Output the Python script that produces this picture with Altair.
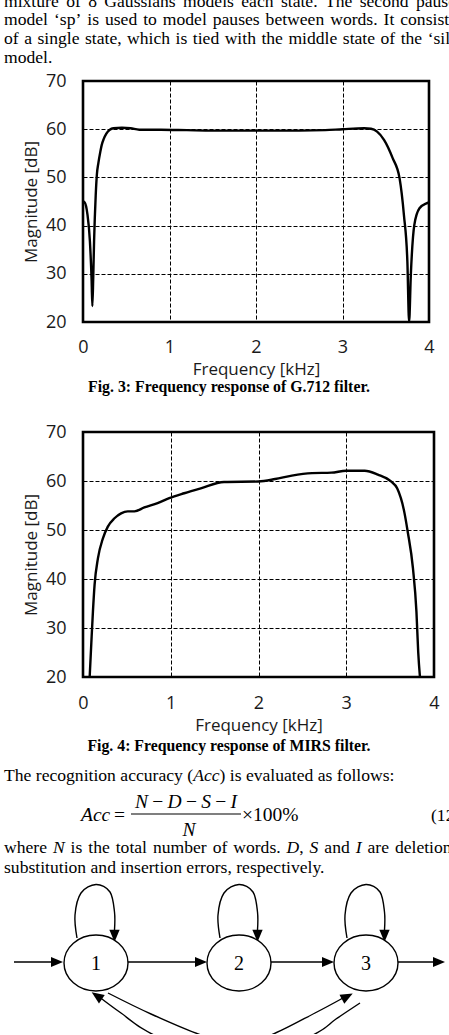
import altair as alt
import pandas as pd

# ---------------- chart data ----------------
g712_freq_khz = [0.0, 0.02, 0.05, 0.08, 0.10, 0.108, 0.118, 0.128, 0.147, 0.16,
                 0.178, 0.20, 0.216, 0.24, 0.27, 0.31, 0.35, 0.45, 0.55, 0.65,
                 0.9, 1.2, 1.5, 2.0, 2.5, 2.8, 3.0, 3.25, 3.33, 3.40,
                 3.48, 3.58, 3.66, 3.71, 3.75, 3.77, 3.79, 3.83, 3.89, 3.97, 4.0]
g712_mag_db = [45.0, 44.8, 42.5, 36.7, 28.4, 23.3, 29.0, 36.7, 46.3, 50.5,
               53.0, 55.3, 56.7, 58.0, 59.1, 59.9, 60.2, 60.3, 60.2, 59.9,
               59.9, 59.8, 59.7, 59.7, 59.7, 59.8, 60.0, 60.2, 60.1, 59.5,
               57.8, 54.0, 49.8, 42.2, 32.5, 20.0, 29.8, 40.1, 43.6, 44.6, 44.8]

mirs_freq_khz = [0.076, 0.095, 0.113, 0.132, 0.17, 0.227, 0.283, 0.359, 0.434, 0.51,
                 0.586, 0.699, 0.85, 0.983, 1.153, 1.342, 1.607, 2.0, 2.19, 2.38,
                 2.61, 2.83, 3.0, 3.21, 3.36, 3.51, 3.58, 3.66, 3.70, 3.76,
                 3.80, 3.82, 3.84]
mirs_mag_db = [20.0, 27.0, 33.3, 38.8, 44.2, 48.3, 50.7, 52.4, 53.4, 53.8,
               53.8, 54.6, 55.5, 56.5, 57.5, 58.5, 59.8, 59.9, 60.4, 61.1,
               61.6, 61.7, 62.1, 62.1, 61.3, 59.9, 58.5, 53.8, 49.7, 42.2,
               33.3, 25.1, 20.0]

x_ticks = [0, 1, 2, 3, 4]
y_ticks = [20, 30, 40, 50, 60, 70]
x_title = "Frequency [kHz]"
y_title = "Magnitude [dB]"

# ---------------- page text ----------------
top_lines = [
    "mixture of 8 Gaussians models each state. The second pause",
    "model ‘sp’ is used to model pauses between words. It consists",
    "of a single state, which is tied with the middle state of the ‘sil’",
    "model.",
]
top_justified = [True, True, True, False]
caption3 = "Fig. 3: Frequency response of G.712 filter."
caption4 = "Fig. 4: Frequency response of MIRS filter."
acc_intro = "The recognition accuracy (_Acc_) is evaluated as follows:"
where_lines = [
    "where _N_ is the total number of words. _D_, _S_ and _I_ are deletion,",
    "substitution and insertion errors, respectively.",
]
where_justified = [True, False]
eq_lhs = "Acc"
eq_equals = "="
eq_numerator = [("N", "i"), ("\u2212", "r"), ("D", "i"), ("\u2212", "r"),
                ("S", "i"), ("\u2212", "r"), ("I", "i")]
eq_denominator = "N"
eq_factor = "\u00d7100%"
eq_number = "(12)"
hmm_states = ["1", "2", "3"]

# ---------------- fonts / layout ----------------
SERIF = "Liberation Serif"
SANS = "Open Sans"
F_BODY = 17.6
F_CAP = 15.8
F_EQ = 19.5
F_NODE = 20

ORIGIN_X = 82          # page x of the plot-area left edge
ROW_W = 449 - ORIGIN_X
ROW_A_H = 81
C1_W, C1_H = 346, 241
ROW_C_H = 110
C2_W, C2_H = 351, 245
ROW_E_H = 358
ROW_C_TOP = ROW_A_H + C1_H
ROW_E_TOP = ROW_C_TOP + ROW_C_H + C2_H
TEXT_LEFT = 3
TEXT_RIGHT = 455

# Times / Liberation Serif advance widths (1/1000 em)
TIMES_R = {" ": 250, "(": 333, ")": 333, ",": 250, ".": 250, ":": 278, "%": 833,
           "‘": 333, "’": 333, "\u2212": 564, "\u00d7": 564, "=": 564,
           "0": 500, "1": 500, "2": 500, "3": 500, "4": 500, "5": 500, "6": 500,
           "7": 500, "8": 500, "9": 500,
           "A": 722, "B": 667, "C": 667, "D": 722, "E": 611, "F": 556, "G": 722,
           "H": 722, "I": 333, "J": 389, "K": 722, "L": 611, "M": 889, "N": 722,
           "O": 722, "P": 556, "Q": 722, "R": 667, "S": 556, "T": 611, "U": 722,
           "V": 722, "W": 944, "X": 722, "Y": 722, "Z": 611,
           "a": 444, "b": 500, "c": 444, "d": 500, "e": 444, "f": 333, "g": 500,
           "h": 500, "i": 278, "j": 278, "k": 500, "l": 278, "m": 778, "n": 500,
           "o": 500, "p": 500, "q": 500, "r": 333, "s": 389, "t": 278, "u": 500,
           "v": 500, "w": 722, "x": 500, "y": 500, "z": 444}
TIMES_I = dict(TIMES_R, A=611, c=444, N=667, D=722, S=500, I=333)


def seg_w(text, style, size):
    table = TIMES_I if style == "i" else TIMES_R
    return sum(table.get(ch, 500) for ch in text) / 1000.0 * size


def parse(line):
    words, buf, italic = [[]], "", False
    for ch in line:
        if ch in "_ ":
            if buf:
                words[-1].append((buf, "i" if italic else "r"))
                buf = ""
            if ch == "_":
                italic = not italic
            else:
                words.append([])
        else:
            buf += ch
    if buf:
        words[-1].append((buf, "i" if italic else "r"))
    return [w for w in words if w]


def layout_line(line, baseline, size, justify):
    words = parse(line)
    widths = [sum(seg_w(t, s, size) for t, s in w) for w in words]
    gap = TIMES_R[" "] / 1000.0 * size
    if justify and len(words) > 1:
        natural = sum(widths) + gap * (len(words) - 1)
        gap += (TEXT_RIGHT - TEXT_LEFT - natural) / (len(words) - 1)
    rows, x = [], TEXT_LEFT
    for w, wd in zip(words, widths):
        xx = x
        for t, s in w:
            rows.append((t, xx, baseline, s))
            xx += seg_w(t, s, size)
        x += wd + gap
    return rows


def text_layer(rows, row_top, size, style="normal", weight="normal",
               align="left", baseline="alphabetic", font=SERIF):
    df = pd.DataFrame({"t": [r[0] for r in rows],
                       "x": [r[1] - ORIGIN_X for r in rows],
                       "y": [r[2] - row_top for r in rows]})
    return alt.Chart(df).mark_text(
        font=font, fontSize=size, fontStyle=style, fontWeight=weight,
        align=align, baseline=baseline, color="black"
    ).encode(
        x=alt.X("x:Q", scale=None, axis=None),
        y=alt.Y("y:Q", scale=None, axis=None),
        text=alt.Text("t:N"),
    )


def styled_layers(rows, row_top, size):
    reg = [r for r in rows if r[3] == "r"]
    ita = [r for r in rows if r[3] == "i"]
    out = []
    if reg:
        out.append(text_layer(reg, row_top, size))
    if ita:
        out.append(text_layer(ita, row_top, size, style="italic"))
    return out


# ---------------- frequency response charts ----------------
def freq_chart(freq, mag, w, h, label_pad_x, title_pad_x):
    df = pd.DataFrame({"f": freq, "m": mag})
    common = dict(grid=True, gridColor="black", gridDash=[4, 2], gridWidth=1,
                  domain=False, ticks=False, tickSize=0, labelFlush=False,
                  labelFont=SANS, labelFontSize=18, labelColor="#1a1a1a",
                  titleFont=SANS, titleFontSize=17, titleFontWeight="normal",
                  titleColor="#1a1a1a")
    x = alt.X("f:Q", scale=alt.Scale(domain=[0, 4], nice=False, zero=False),
              axis=alt.Axis(values=x_ticks, title=x_title, labelPadding=label_pad_x,
                            titlePadding=title_pad_x, **common))
    y = alt.Y("m:Q", scale=alt.Scale(domain=[20, 70], nice=False, zero=False),
              axis=alt.Axis(values=y_ticks, title=y_title, labelPadding=17,
                            titlePadding=5, **common))
    return alt.Chart(df).mark_line(
        color="black", strokeWidth=2.4, interpolate="monotone", clip=True
    ).encode(x=x, y=y).properties(
        width=w, height=h,
        view=alt.ViewBackground(stroke="black", strokeWidth=2.6))


chart1 = freq_chart(g712_freq_khz, g712_mag_db, C1_W, C1_H, 16, 5)
chart2 = freq_chart(mirs_freq_khz, mirs_mag_db, C2_W, C2_H, 17, 5)

# ---------------- row A: paragraph above Fig. 3 ----------------
rows_a = []
for i, (line, just) in enumerate(zip(top_lines, top_justified)):
    rows_a += layout_line(line, 6.5 + i * 18.8, F_BODY, just)
row_a = alt.layer(*styled_layers(rows_a, 0, F_BODY)).properties(width=ROW_W, height=ROW_A_H)

# ---------------- row C: caption of Fig. 3 ----------------
row_c = text_layer([(caption3, 228, 392, "r")], ROW_C_TOP, F_CAP, weight="bold",
                   align="center").properties(width=ROW_W, height=ROW_C_H)

# ---------------- row E: caption, equation, text, HMM diagram ----------------
T = ROW_E_TOP
layers_e = [text_layer([(caption4, 228, 751, "r")], T, F_CAP, weight="bold", align="center")]
rows_e = layout_line(acc_intro, 781, F_BODY, False)
for i, (line, just) in enumerate(zip(where_lines, where_justified)):
    rows_e += layout_line(line, 853 + i * 20, F_BODY, just)
rows_e.append((eq_number, 430, 821, "r"))
layers_e += styled_layers(rows_e, T, F_BODY)

# equation
BAR_X1, BAR_X2, BAR_Y = 130, 240, 814
eq_rows = [(eq_lhs, 80, 821, "i"), (eq_equals, 113, 821, "r"), (eq_factor, 241, 821, "r")]
gap = 0.22 * F_EQ
num_w = sum(seg_w(t, s, F_EQ) for t, s in eq_numerator) + gap * (len(eq_numerator) - 1)
xx = (BAR_X1 + BAR_X2) / 2 - num_w / 2
for t, s in eq_numerator:
    eq_rows.append((t, xx, 808, s))
    xx += seg_w(t, s, F_EQ) + gap
den_w = seg_w(eq_denominator, "i", F_EQ)
eq_rows.append((eq_denominator, (BAR_X1 + BAR_X2) / 2 + 3 - den_w / 2, 836, "i"))
layers_e += styled_layers(eq_rows, T, F_EQ)


def rule_layer(segs, width=1.3):
    df = pd.DataFrame({"x": [s[0] - ORIGIN_X for s in segs],
                       "x2": [s[1] - ORIGIN_X for s in segs],
                       "y": [s[2] - T for s in segs]})
    return alt.Chart(df).mark_rule(color="black", strokeWidth=width).encode(
        x=alt.X("x:Q", scale=None, axis=None), x2=alt.X2("x2:Q"),
        y=alt.Y("y:Q", scale=None, axis=None))


layers_e.append(rule_layer([(BAR_X1, BAR_X2, BAR_Y)], 1.2))

# HMM diagram geometry (page pixels)
NODE_X = [95, 238, 365]
NODE_Y = 963
ARROW_Y = 962
straight = [(13, 52), (127, 196), (270, 323), (397, 434)]
straight_tips = [62, 206, 333, 444]
loop_offsets = [(-19, -25), (-21, -48), (-15, -70), (0, -78.5), (14, -71),
                (18.5, -51), (18.5, -33)]
loop_tip = (18.5, -21)
arc_inner = [(107, 993), (150, 1014), (200, 1035), (235, 1044), (270, 1035),
             (314, 1013), (342, 998)]
arc_outer = [(359, 1003), (335, 1019), (312, 1035), (235, 1068), (153, 1035),
             (120, 1013), (99, 997.5)]

layers_e.append(rule_layer([(a, b, ARROW_Y) for a, b in straight], 1.4))

curve_rows = []
for k, nx in enumerate(NODE_X):
    for i, (dx, dy) in enumerate(loop_offsets):
        curve_rows.append((f"loop{k}", i, nx + dx, NODE_Y + dy))
for i, (px_, py_) in enumerate(arc_inner):
    curve_rows.append(("inner", i, px_, py_))
for i, (px_, py_) in enumerate(arc_outer):
    curve_rows.append(("outer", i, px_, py_))
curve_df = pd.DataFrame({"id": [r[0] for r in curve_rows], "i": [r[1] for r in curve_rows],
                         "x": [r[2] - ORIGIN_X for r in curve_rows],
                         "y": [r[3] - T for r in curve_rows]})
layers_e.append(alt.Chart(curve_df).mark_line(
    color="black", strokeWidth=1.4, interpolate="cardinal").encode(
    x=alt.X("x:Q", scale=None, axis=None), y=alt.Y("y:Q", scale=None, axis=None),
    detail="id:N", order="i:Q"))

ARROW = "M0,0L-0.42,1L0.42,1Z"
heads = [(x, ARROW_Y, 90, 576) for x in straight_tips]
heads += [(nx + loop_tip[0], NODE_Y + loop_tip[1], 180, 600) for nx in NODE_X]
heads += [(351.7, 993.5, 62, 600), (90.7, 992.3, 304, 600)]
head_df = pd.DataFrame({"x": [h[0] - ORIGIN_X for h in heads], "y": [h[1] - T for h in heads],
                        "a": [h[2] for h in heads], "s": [h[3] for h in heads]})
layers_e.append(alt.Chart(head_df).mark_point(
    shape=ARROW, filled=True, color="black", opacity=1, strokeWidth=0).encode(
    x=alt.X("x:Q", scale=None, axis=None), y=alt.Y("y:Q", scale=None, axis=None),
    angle=alt.Angle("a:Q", scale=None), size=alt.Size("s:Q", scale=None)))

ELLIPSE = "M-1,0A1,0.875,0,1,1,1,0A1,0.875,0,1,1,-1,0Z"
node_df = pd.DataFrame({"x": [nx - ORIGIN_X for nx in NODE_X], "y": [NODE_Y - T] * 3,
                        "t": hmm_states})
layers_e.append(alt.Chart(node_df).mark_point(
    shape=ELLIPSE, size=4096, filled=True, fill="white", stroke="black",
    strokeWidth=1.4, opacity=1).encode(
    x=alt.X("x:Q", scale=None, axis=None), y=alt.Y("y:Q", scale=None, axis=None)))
layers_e.append(alt.Chart(node_df).mark_text(
    font=SERIF, fontSize=F_NODE, align="center", baseline="middle", color="black", dy=1).encode(
    x=alt.X("x:Q", scale=None, axis=None), y=alt.Y("y:Q", scale=None, axis=None),
    text="t:N"))

row_e = alt.layer(*layers_e).properties(width=ROW_W, height=ROW_E_H)

chart = alt.vconcat(row_a, chart1, row_c, chart2, row_e, spacing=0, bounds="flush").properties(
    padding={"left": 3, "top": -8, "right": -12, "bottom": -38}
).configure_view(stroke="transparent")

chart.save("out.html", embed_options={"renderer": "svg", "actions": False})
